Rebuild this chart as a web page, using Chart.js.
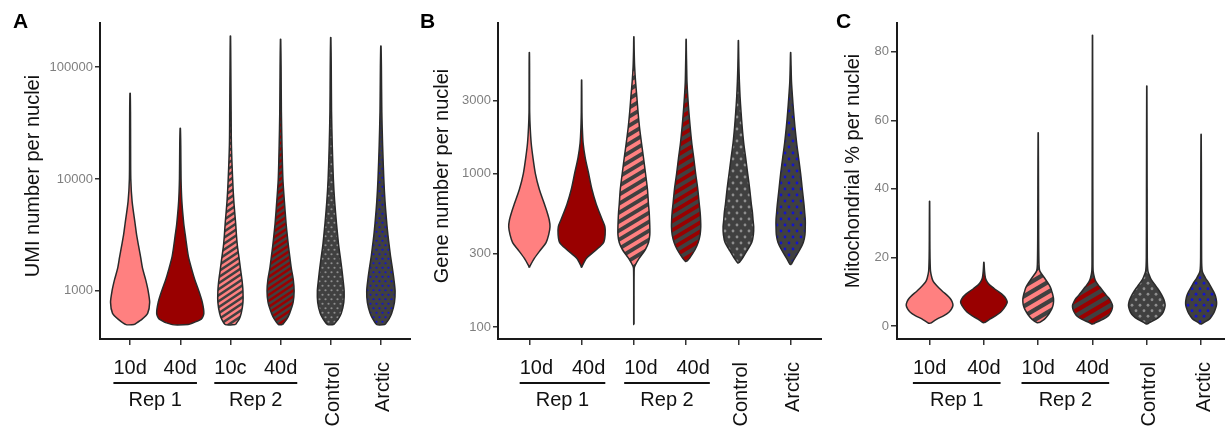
<!DOCTYPE html>
<html>
<head>
<meta charset="utf-8">
<script src="https://cdn.jsdelivr.net/npm/chart.js@4.4.0/dist/chart.umd.min.js"></script>
<style>
  body { margin: 0; background: #fff; width: 1225px; height: 430px; position: relative; overflow: hidden; }
  .panel { position: absolute; top: 0; height: 430px; }
  .tag { position: absolute; top: 10px; font: bold 21px 'Liberation Sans', Arial, sans-serif; line-height: 21px; color: #000; }
</style>
</head>
<body>
<div class="panel" style="left:0;width:411px"><canvas id="umiChart" width="411" height="430"></canvas></div>
<div class="panel" style="left:411px;width:411px"><canvas id="geneChart" width="411" height="430"></canvas></div>
<div class="panel" style="left:822px;width:403px"><canvas id="mitoChart" width="403" height="430"></canvas></div>
<div class="tag" style="left:13px">A</div>
<div class="tag" style="left:420px">B</div>
<div class="tag" style="left:836px">C</div>
<script>
// categories
const umiTickLabels = ['10d', '40d', '10c', '40d', 'Control', 'Arctic'];
const tickLabels = ['10d', '40d', '10d', '40d', 'Control', 'Arctic'];
const groupNames = ['Rep 1', 'Rep 2'];
const groupMembers = [[0, 1], [2, 3]];

// violin profiles: values along the axis, half widths in % of category spacing
// A - UMI number per nuclei
const umiLevels = [
  [500, 560, 630, 790, 1000, 1260, 1580, 2000, 2510, 3160, 3980, 6310, 10000, 20000, 39800, 58200],
  [500, 560, 630, 790, 1000, 1260, 1580, 2000, 2510, 3160, 3980, 6310, 10000, 20000, 28400],
  [500, 560, 630, 790, 1000, 1260, 1580, 2000, 2510, 3160, 3980, 6310, 10000, 20000, 39800, 100000, 189000],
  [500, 560, 630, 790, 1000, 1260, 1580, 2000, 2510, 3160, 3980, 6310, 10000, 20000, 39800, 100000, 176600],
  [500, 560, 630, 790, 1000, 1260, 1580, 2000, 2510, 3160, 3980, 6310, 10000, 20000, 39800, 100000, 183000],
  [500, 560, 630, 790, 1000, 1260, 1580, 2000, 2510, 3160, 3980, 6310, 10000, 20000, 39800, 100000, 154000]
];
const umiWidths = [
  [8, 24, 35, 39, 36, 31, 25, 21, 17, 13, 10, 4, 1.4, 1, 0.8, 0.3],
  [16, 42, 47, 44, 37, 29, 22.5, 16.5, 13, 10, 7, 3.2, 1.6, 1, 0.3],
  [10, 17.5, 21.5, 25, 25, 23, 20, 17, 14, 12, 10.5, 6.8, 4.4, 2, 1.4, 0.8, 0.3],
  [4, 12.4, 18, 25, 27, 25.3, 21.5, 18.5, 15.7, 13.3, 11, 7.6, 4.6, 2.8, 1.6, 1, 0.3],
  [6, 15, 21, 26, 26.7, 24.5, 22, 19, 16, 13.7, 11.5, 7.8, 5.2, 3, 1.6, 1, 0.3],
  [8, 16, 21.5, 27, 28.3, 26, 23, 19.5, 16.7, 14, 11.8, 8.2, 5.8, 3.4, 1.8, 1, 0.3]
];
const umiTicks = [1000, 10000, 100000];

// B - Gene number per nuclei
const geneLevels = [
  [245, 250, 280, 320, 355, 400, 450, 500, 560, 630, 790, 1000, 1260, 1580, 2000, 2510, 3160, 3980, 5010, 6140],
  [245, 250, 280, 320, 355, 400, 450, 500, 560, 630, 790, 1000, 1260, 1580, 2000, 2510, 3160, 4070],
  [104, 160, 240, 250, 280, 320, 355, 400, 450, 500, 560, 630, 790, 1000, 1260, 1580, 2000, 2510, 3160, 3980, 5010, 6310, 7780],
  [268, 280, 320, 355, 400, 450, 500, 560, 630, 790, 1000, 1260, 1580, 2000, 2510, 3160, 3980, 5010, 6310, 7500],
  [262, 280, 320, 355, 400, 450, 500, 560, 630, 790, 1000, 1260, 1580, 2000, 2510, 3160, 3980, 5010, 6310, 7340],
  [256, 280, 320, 355, 400, 450, 500, 560, 630, 790, 1000, 1260, 1580, 2000, 2510, 3160, 3980, 5010, 6140]
];
const geneWidths = [
  [0.4, 1.3, 9.5, 22, 32, 37, 39.5, 38, 34, 29, 19, 11.5, 7, 3.5, 1.6, 0.6, 0.5, 0.45, 0.4, 0.2],
  [0.4, 1.3, 9, 28.7, 42, 45, 44.6, 39.5, 33.8, 28, 19.7, 13.4, 7, 2.9, 1.3, 0.64, 0.45, 0.2],
  [0.3, 0.3, 0.6, 1.9, 10, 22, 28, 30.5, 30.5, 30, 29.3, 28, 26, 22.3, 18.5, 14.6, 10.8, 8, 5.7, 3.2, 1.4, 0.6, 0.2],
  [1.3, 6.4, 17.2, 23, 26.8, 28, 27.7, 26.8, 25.2, 22.3, 18.2, 14.6, 10.8, 7.8, 5.3, 3.2, 1.6, 1, 0.45, 0.2],
  [1.3, 7.6, 17.8, 25.5, 28.7, 29.3, 28, 26.8, 24.8, 21.7, 17.8, 14, 10.2, 7.3, 5.1, 3.2, 1.9, 1, 0.5, 0.2],
  [1.3, 7.6, 17.8, 24.2, 27.4, 28, 28, 26.8, 25.5, 22.3, 19.1, 15.3, 11.5, 8.3, 5.7, 3.5, 1.6, 0.8, 0.2]
];
const geneTicks = [100, 300, 1000, 3000];

// C - Mitochondrial % per nuclei
const mitoLevels = [
  [0.8, 2, 3, 4, 5, 6, 7, 8, 9, 10, 11, 12, 13, 14, 16, 20, 25, 36.4],
  [1, 2, 3, 4, 5, 6, 7, 8, 9, 10, 11, 12, 13, 14, 16, 18.6],
  [1, 2, 3, 4, 5, 6, 7, 8, 9, 10, 11, 12, 13, 14, 16, 18, 25, 40, 56.4],
  [0.6, 1, 2, 3, 4, 5, 6, 7, 8, 9, 10, 11, 12, 13, 14, 16, 20, 40, 84.8],
  [0.6, 1, 2, 3, 4, 5, 6, 7, 8, 9, 10, 11, 12, 13, 14, 16, 20, 40, 70],
  [0.6, 1, 2, 3, 4, 5, 6, 7, 8, 9, 10, 11, 12, 13, 14, 16, 20, 40, 55.9]
];
const mitoWidths = [
  [1.8, 13.5, 26.4, 35.6, 40.5, 43, 41.7, 38, 32, 24.5, 17.8, 11.7, 6.7, 4.3, 1.7, 0.8, 0.5, 0.2],
  [1.8, 11, 22, 30.7, 36.2, 40.5, 43, 40.5, 35, 27, 18.4, 10.4, 5.5, 2.8, 1.2, 0.2],
  [2.5, 11.7, 17.2, 21.5, 25, 27.3, 28.2, 28.2, 27, 25.2, 23.3, 20.2, 16, 11.7, 3, 1.5, 0.9, 0.6, 0.2],
  [1.8, 6.1, 20.2, 29.4, 33.7, 36.2, 36.8, 34.4, 30.7, 25.2, 20.2, 15.3, 10.4, 6.1, 3.7, 1.2, 0.85, 0.6, 0.2],
  [1.8, 4.9, 17.2, 25.2, 30, 32.5, 33.7, 32.8, 30.7, 27.6, 23.9, 19.6, 15.3, 10.4, 6.7, 2.1, 0.9, 0.6, 0.2],
  [1.8, 4.9, 15.3, 20.2, 24, 26.4, 28.2, 28.5, 27.6, 25.8, 23, 19.6, 16, 12.3, 8, 2.1, 0.9, 0.6, 0.2]
];
const mitoTicks = [0, 20, 40, 60, 80];

const FONT = "'Liberation Sans', Arial, sans-serif";
const DARK = '#404040';
const SALMON = '#ff8080';
const CRIMSON = '#990000';
Chart.defaults.font.family = FONT;

function stripes(color, w, h) {
  const c = document.createElement('canvas');
  c.width = w; c.height = h;
  const g = c.getContext('2d');
  g.fillStyle = DARK;
  g.fillRect(0, 0, w, h);
  g.strokeStyle = color;
  g.lineWidth = h * w / Math.hypot(w, h) / 2;
  for (let n = -1; n <= 2; n++) {
    g.beginPath();
    g.moveTo(-w, n * h + h);
    g.lineTo(2 * w, n * h - 2 * h);
    g.stroke();
  }
  return g.createPattern(c, 'repeat');
}

function dots(color, w, h, r) {
  const c = document.createElement('canvas');
  c.width = w; c.height = h;
  const g = c.getContext('2d');
  g.fillStyle = DARK;
  g.fillRect(0, 0, w, h);
  g.fillStyle = color;
  [[w * 0.25, h * 0.25], [w * 0.75, h * 0.75]].forEach(([x, y]) => {
    g.beginPath();
    g.arc(x, y, r, 0, Math.PI * 2);
    g.fill();
  });
  return g.createPattern(c, 'repeat');
}

function fillsFor(s) {
  return [
    SALMON,
    CRIMSON,
    stripes(SALMON, s.sw, s.sh),
    stripes(CRIMSON, s.sw, s.sh),
    dots('#8e8e8e', s.dw, s.dh, s.dr),
    dots('#1414cc', s.dw, s.dh, s.dr)
  ];
}

function violins(levels, widths, fills) {
  return levels.map((lv, i) => {
    const w = widths[i];
    const right = lv.map((v, k) => ({ x: i + w[k] / 100, y: v }));
    const left = lv.map((v, k) => ({ x: i - w[k] / 100, y: v })).reverse();
    return {
      data: right.concat(left, [right[0]]),
      fill: 'shape',
      backgroundColor: fills[i],
      borderColor: '#2a2a2a',
      borderWidth: 1.5,
      pointRadius: 0,
      tension: 0.25
    };
  });
}

// y title, x labels, group underlines and rotated labels under the axis
const catLabelPlugin = {
  id: 'catLabels',
  afterDraw(chart, args, opts) {
    const ctx = chart.ctx;
    const xs = chart.scales.x;
    const inGroup = new Set(groupMembers.flat());
    ctx.save();
    ctx.fillStyle = '#111';
    ctx.strokeStyle = '#111';
    ctx.font = '20px ' + FONT;

    ctx.save();
    ctx.translate(opts.titleX, opts.titleY);
    ctx.rotate(-Math.PI / 2);
    ctx.textAlign = 'center';
    ctx.textBaseline = 'middle';
    ctx.fillText(opts.title, 0, 0);
    ctx.restore();

    ctx.textBaseline = 'alphabetic';
    opts.labels.forEach((t, i) => {
      const x = xs.getPixelForValue(i);
      if (inGroup.has(i)) {
        ctx.textAlign = 'center';
        ctx.fillText(t, x + opts.shift, 374);
      } else {
        ctx.save();
        ctx.translate(x + 8.5, 362);
        ctx.rotate(-Math.PI / 2);
        ctx.textAlign = 'right';
        ctx.fillText(t, 0, 0);
        ctx.restore();
      }
    });
    groupMembers.forEach((m, gi) => {
      const a = xs.getPixelForValue(m[0]) + opts.shift - ctx.measureText(opts.labels[m[0]]).width / 2;
      const b = xs.getPixelForValue(m[m.length - 1]) + opts.shift + ctx.measureText(opts.labels[m[m.length - 1]]).width / 2;
      ctx.lineWidth = 1.8;
      ctx.beginPath();
      ctx.moveTo(a, 383);
      ctx.lineTo(b, 383);
      ctx.stroke();
      ctx.textAlign = 'center';
      ctx.fillText(groupNames[gi], (a + b) / 2, 406);
    });
    ctx.restore();
  }
};

const panels = [
  { id: 'umiChart', levels: umiLevels, widths: umiWidths, labels: umiTickLabels, yType: 'logarithmic',
    yMin: 372, yMax: 247000, yTicks: umiTicks, title: 'UMI number per nuclei', yWidth: 100, xMax: 5.6,
    shift: 0, titleX: 33, titleY: 176, tickLen: 5, style: { sw: 9, sh: 6, dw: 6, dh: 9, dr: 1.1 } },
  { id: 'geneChart', levels: geneLevels, widths: geneWidths, labels: tickLabels, yType: 'logarithmic',
    yMin: 83.6, yMax: 9560, yTicks: geneTicks, title: 'Gene number per nuclei', yWidth: 87, xMax: 5.6,
    shift: 7, titleX: 31, titleY: 176, tickLen: 5, style: { sw: 15, sh: 9, dw: 8, dh: 12, dr: 1.4 } },
  { id: 'mitoChart', levels: mitoLevels, widths: mitoWidths, labels: tickLabels, yType: 'linear',
    yMin: -3.8, yMax: 88.4, yTicks: mitoTicks, title: 'Mitochondrial % per nuclei', yWidth: 75, xMax: 5.44,
    shift: 0, titleX: 31, titleY: 171, tickLen: 6, style: { sw: 17, sh: 10, dw: 8, dh: 11, dr: 1.4 } }
];

panels.forEach(p => {
  new Chart(document.getElementById(p.id), {
    type: 'line',
    data: { datasets: violins(p.levels, p.widths, fillsFor(p.style)) },
    plugins: [catLabelPlugin],
    options: {
      responsive: false,
      animation: false,
      events: [],
      layout: { padding: { top: 23, left: 0, right: 0, bottom: 0 } },
      plugins: {
        legend: { display: false },
        tooltip: { enabled: false },
        catLabels: { labels: p.labels, shift: p.shift, title: p.title, titleX: p.titleX, titleY: p.titleY }
      },
      scales: {
        x: {
          type: 'linear',
          min: -0.6,
          max: p.xMax,
          afterBuildTicks: s => { s.ticks = p.labels.map((_, i) => ({ value: i })); },
          afterFit: s => { s.height = 91; },
          ticks: { display: false },
          grid: { drawOnChartArea: false, drawTicks: true, tickLength: 6, color: '#333', lineWidth: 1.5 },
          border: { display: true, color: '#1a1a1a', width: 2 }
        },
        y: {
          type: p.yType,
          min: p.yMin,
          max: p.yMax,
          afterBuildTicks: s => { s.ticks = p.yTicks.map(v => ({ value: v })); },
          afterFit: s => { s.width = p.yWidth; },
          ticks: { callback: v => String(v), color: '#7f7f7f', font: { size: 13 }, padding: 2 },
          grid: { drawOnChartArea: false, drawTicks: true, tickLength: p.tickLen, color: '#333', lineWidth: 1.5 },
          border: { display: true, color: '#1a1a1a', width: 2 },
          title: { display: false }
        }
      }
    }
  });
});
</script>
</body>
</html>
